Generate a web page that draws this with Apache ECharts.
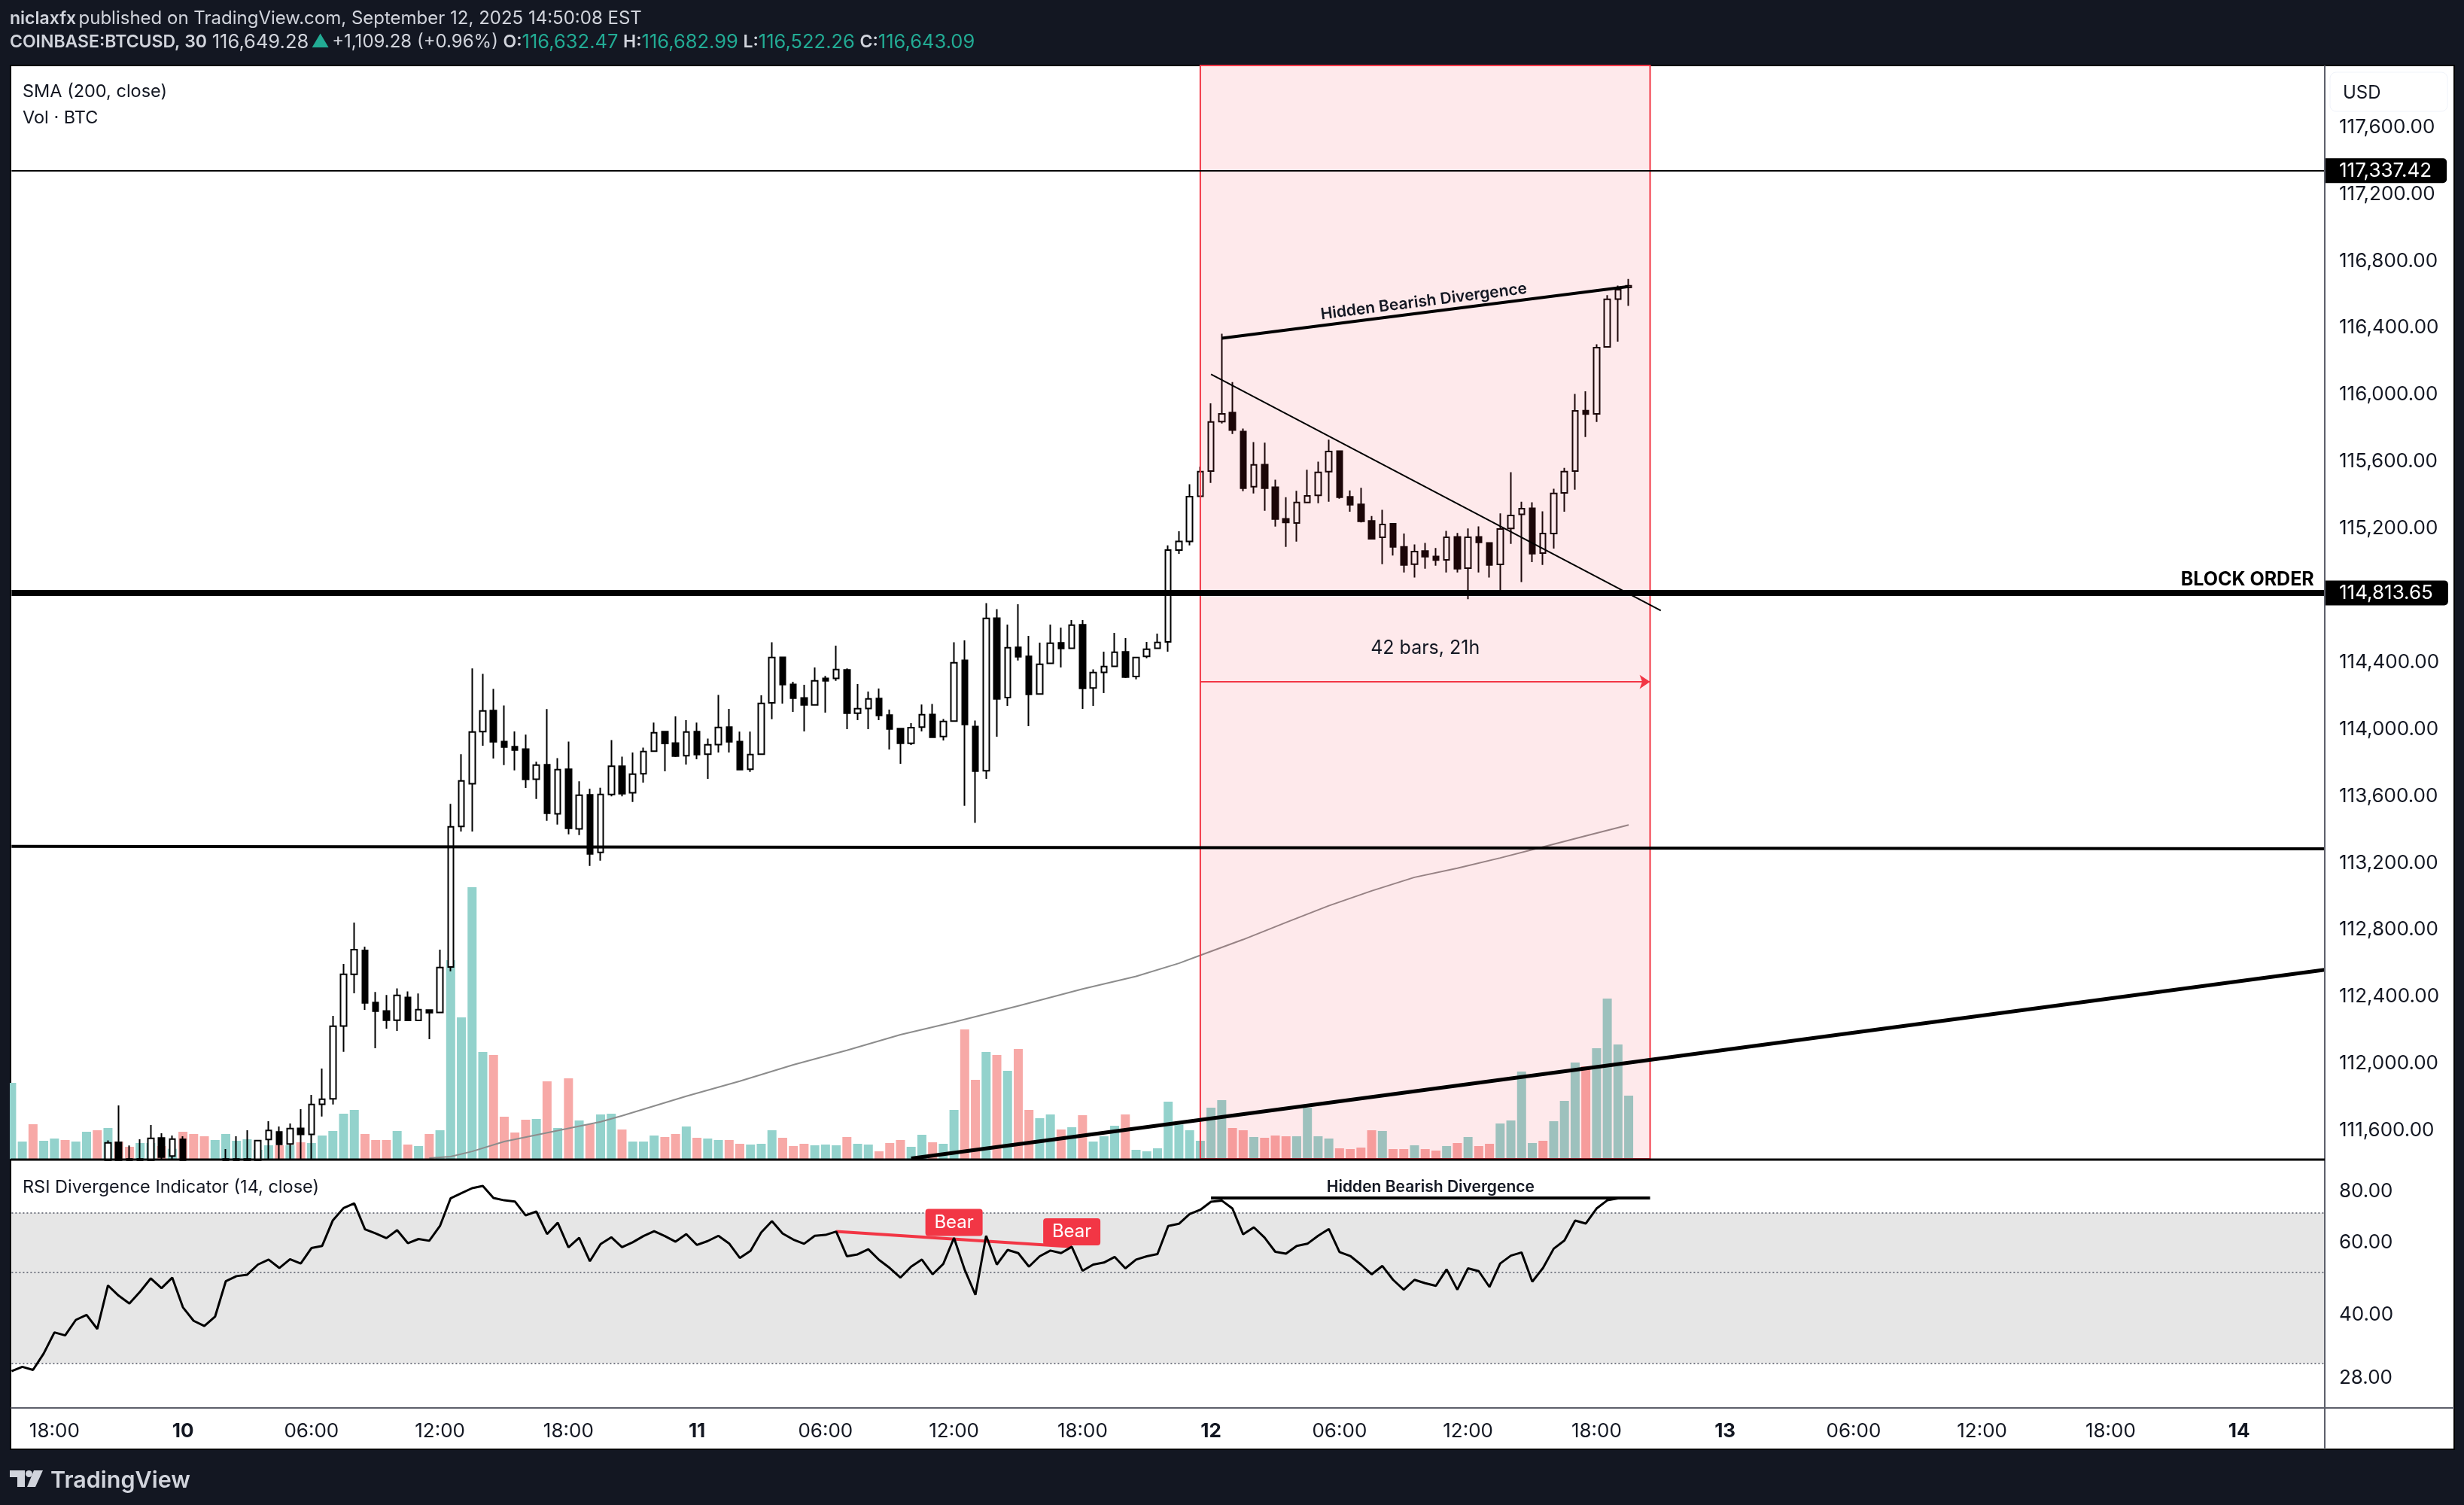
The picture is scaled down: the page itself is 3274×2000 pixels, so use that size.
<!DOCTYPE html>
<html>
<head>
<meta charset="utf-8">
<title>BTCUSD 30</title>
<script src="https://cdn.jsdelivr.net/npm/echarts@6/dist/echarts.min.js"></script>
<style>
  html, body { margin: 0; padding: 0; background: #131722; }
  #chart { width: 3274px; height: 2000px; }
</style>
</head>
<body>
<div id="chart"></div>
<script>
// 30 minute bars, one entry per bar
const opens = [
  111350,111340,111360,111330,111350,111370,111345,111365,111385,111414,
  111520,111420,111414,111414,111546,111438,111538,111400,111380,111360,
  111414,111420,111414,111414,111537,111582,111510,111604,111568,111748,
  111780,112216,112525,112668,112356,112306,112251,112387,112249,112311,
  112297,112569,113409,113665,113976,114102,113917,113886,113872,113692,
  113778,113485,113751,113395,113598,113254,113601,113769,113611,113724,
  113859,113976,113908,113832,113976,113841,113899,114003,113917,113751,
  113841,114148,114421,114259,114178,114136,114295,114295,114345,114087,
  114115,114174,114075,113994,113907,114003,114079,113947,114039,114403,
  114007,113742,114655,114180,114480,114426,114201,114385,114507,114475,
  114615,114237,114331,114367,114453,114306,114426,114475,114513,115062,
  115114,115384,115534,115830,115884,115771,115441,115573,115438,115249,
  115224,115347,115389,115531,115654,115380,115335,115236,115138,115219,
  115081,114978,115056,115024,115003,115141,114954,115141,115105,114976,
  115191,115276,115312,115044,115161,115404,115534,115896,115876,116277,
  116563,116632.47
];
const closes = [
  111340,111360,111330,111350,111370,111345,111365,111385,111360,111517,
  111414,111414,111420,111544,111432,111540,111414,111380,111360,111385,
  111420,111414,111420,111531,111591,111508,111603,111568,111747,111778,
  112215,112525,112672,112354,112305,112251,112399,112249,112314,112296,
  112566,113407,113682,113974,114100,113916,113884,113866,113691,113776,
  113488,113749,113398,113596,113245,113601,113769,113605,113722,113857,
  113970,113905,113830,113974,113839,113898,114001,113916,113749,113839,
  114145,114420,114258,114177,114136,114280,114280,114348,114087,114114,
  114172,114073,113992,113907,114000,114078,113943,114037,114388,114019,
  113740,114654,114172,114478,114424,114199,114379,114505,114474,114613,
  114235,114330,114366,114451,114303,114420,114469,114510,115062,115114,
  115381,115531,115828,115876,115780,115432,115572,115432,115248,115227,
  115347,115386,115527,115651,115378,115333,115234,115129,115215,115081,
  114973,115053,115023,115002,115138,114951,115138,115108,114973,115188,
  115269,115309,115041,115161,115401,115531,115894,115875,116272,116562,
  116619,116643.09
];
const lows = [
  111300,111310,111300,111310,111320,111320,111315,111335,111340,111414,
  111414,111414,111414,111414,111414,111414,111414,111350,111340,111340,
  111414,111414,111414,111414,111414,111414,111414,111414,111414,111675,
  111747,112062,112411,112312,112083,112200,112186,112246,112246,112137,
  112297,112543,113379,113379,113892,113815,113776,113745,113640,113574,
  113443,113421,113362,113358,113173,113205,113589,113589,113556,113671,
  113859,113739,113824,113779,113811,113694,113851,113851,113749,113736,
  113841,114051,114144,114094,113977,114132,114090,114280,113991,114045,
  113991,114045,113869,113784,113896,113977,113943,113923,114039,113533,
  113431,113694,113946,114130,114402,114009,114201,114385,114360,114475,
  114112,114130,114207,114367,114297,114289,114415,114475,114454,115040,
  115090,115384,115464,115819,115756,115414,115401,115297,115203,115081,
  115113,115342,115342,115351,115369,115291,115227,115126,114978,115029,
  114928,114898,114951,114969,114928,114928,114768,114928,114898,114811,
  115099,114871,114990,114973,115071,115291,115423,115738,115828,116277,
  116308,116522.26
];
const highs = [
  111380,111390,111385,111380,111400,111395,111390,111410,111405,111532,
  111741,111501,111538,111624,111574,111561,111556,111415,111410,111415,
  111480,111556,111592,111531,111646,111615,111633,111718,111804,111961,
  112276,112587,112835,112690,112419,112401,112441,112423,112410,112315,
  112673,113544,113841,114354,114322,114232,114133,113977,113958,113796,
  114111,113818,113917,113679,113634,113641,113926,113827,113851,113881,
  114030,113976,114067,114045,114030,113935,114196,114112,113976,113976,
  114193,114511,114421,114274,114256,114360,114309,114490,114354,114261,
  114216,114234,114108,113994,114027,114138,114142,114052,114511,114522,
  114043,114745,114709,114616,114738,114549,114508,114616,114598,114643,
  114643,114349,114454,114567,114535,114420,114513,114562,115090,115174,
  115456,115560,115939,116356,116067,115789,115708,115704,115483,115378,
  115416,115542,115591,115722,115654,115419,115434,115266,115303,115219,
  115161,115096,115105,115074,115177,115164,115191,115204,115105,115281,
  115528,115351,115348,115294,115429,115554,115996,116011,116293,116586,
  116644,116682.99
];
const volumes = [
  303,69,138,72,81,75,69,108,114,123,
  69,48,63,63,51,40,108,99,90,75,
  99,72,78,36,54,54,54,66,63,93,
  111,180,195,99,75,75,111,57,51,99,
  114,792,564,1083,426,414,168,105,156,159,
  309,123,321,153,138,177,180,117,69,69,
  93,87,99,129,84,81,75,75,60,57,
  60,114,84,51,60,54,57,54,87,60,
  57,30,63,75,48,96,66,60,195,516,
  315,426,414,351,438,195,162,177,117,126,
  174,69,90,132,177,36,30,42,228,137,
  114,72,204,234,123,114,87,84,93,90,
  90,204,90,81,42,39,45,114,111,39,
  39,54,39,33,51,63,87,51,60,141,
  153,348,63,72,150,231,384,369,441,639,
  456,252
];
// t = teal bar, r = red bar
const volumeSide = (
  'ttrttrttrt' + 'rrttrtrrrt' + 'tttttrtrtt' + 'tttrrrtrtr' + 'tttttrrrrt' +
  'rtrtrttrtt' + 'trrtrttrrt' + 'ttrrrtttrt' + 'trrrttrttr' + 'rtrtrrttrt' +
  'rtttrttttt' + 'ttttrrtrrr' + 'ttttrrrrtr' + 'rtrrtrtrrt' + 'tttrtttrtt' + 'tt'
).split('');
const rsi = [
  28.7,29.4,28.9,31.7,35.7,35.1,38.3,39.4,36.4,46.5,
  43.9,42.0,44.9,48.4,45.8,48.6,41.1,38.1,37.0,39.0,
  47.6,49.0,49.4,52.3,53.8,51.3,53.9,52.6,57.4,58.1,
  67.1,71.9,73.8,63.8,62.3,60.7,63.5,59.0,60.4,59.8,
  65.0,76.0,78.2,80.4,81.4,76.1,75.1,74.6,69.0,70.5,
  62.1,66.2,57.6,60.8,53.3,58.7,61.0,57.7,59.3,61.4,
  63.1,61.4,59.5,62.1,58.4,59.7,61.5,58.9,54.3,56.5,
  62.7,66.8,62.3,60.2,58.8,61.5,61.8,63.0,54.8,55.4,
  57.0,53.7,51.3,48.6,51.7,53.8,49.5,52.5,60.8,50.8,
  44.1,61.5,52.3,56.8,55.8,51.7,54.8,56.6,55.8,57.8,
  50.5,52.3,52.9,54.6,51.2,53.8,54.8,55.5,65.0,65.8,
  69.5,71.2,74.5,75.0,71.7,62.0,64.5,60.9,56.2,55.6,
  58.1,58.8,61.5,63.9,56.1,54.9,52.3,49.5,51.9,48.0,
  45.4,48.0,47.1,46.4,50.9,45.4,51.2,50.4,46.1,52.6,
  55.0,56.0,47.5,51.3,57.2,59.9,67.0,65.9,71.7,75.1,
  75.9,76.1
];
// the SMA was read at these bars only
const smaBars = [39,41,43,46,49,55,57,63,68,73,78,83,88,94,100,105,109,111,115,119,123,127,131,135,139,143,147,151];
const smaValues = [111426,111435,111466,111525,111564,111643,111679,111796,111886,111984,112071,112164,112239,112336,112437,112513,112591,112639,112733,112835,112935,113024,113105,113160,113221,113287,113353,113418];

const priceTicks = [111600,112000,112400,112800,113200,113600,114000,114400,114800,115200,115600,116000,116400,116800,117200,117600];
const rsiTicks = [28,40,60,80];
const rsiLevels = [30,50,70];

// time labels, a bar every 30 minutes from 16:00 on the 9th, 217 slots
const categories = [];
for (let i = 0; i < 217; i++) {
  const minutes = (16 * 60 + i * 30) % 1440;
  if (minutes === 0) {
    categories.push(String(10 + (i - 16) / 48));
  } else {
    const h = Math.floor(minutes / 60), m = minutes % 60;
    categories.push(String(h).padStart(2, '0') + ':' + String(m).padStart(2, '0'));
  }
}

const FONT = 'Inter';
const INK = '#131722';
const RED = '#f23645';
const AXIS_SIZE = 26;

function money(v) {
  return v.toLocaleString('en-US', { minimumFractionDigits: 2, maximumFractionDigits: 2 });
}

function tag(text) {
  return {
    show: true, position: 'end', distance: 1, formatter: text,
    color: '#fff', backgroundColor: '#000', fontFamily: FONT, fontSize: AXIS_SIZE,
    padding: [4, 20, 3, 18], borderRadius: [0, 5, 5, 0]
  };
}

function axisTag(text, color, size) {
  return {
    show: true, position: 'end', distance: 19, formatter: text,
    color: color, fontFamily: FONT, fontSize: size
  };
}

const chart = echarts.init(document.getElementById('chart'));

chart.setOption({
  animation: false,
  backgroundColor: '#131722',
  graphic: { elements: [
    { type: 'rect', z: -10, silent: true, shape: { x: 14, y: 87, width: 3247, height: 1839 },
      style: { fill: '#fff', stroke: '#000', lineWidth: 2 } },
    { type: 'rect', z: 20, silent: true, shape: { x: 0, y: 80, width: 13, height: 1850 },
      style: { fill: '#131722' } },
    { type: 'line', z: 20, silent: true, shape: { x1: 3089, y1: 87, x2: 3089, y2: 1926 },
      style: { stroke: '#5d606b', lineWidth: 2 } },
    { type: 'line', z: 20, silent: true, shape: { x1: 14, y1: 1871, x2: 3261, y2: 1871 },
      style: { stroke: '#5d606b', lineWidth: 2 } },
    { type: 'line', z: 20, silent: true, shape: { x1: 14, y1: 1541, x2: 3089, y2: 1541 },
      style: { stroke: '#000', lineWidth: 3 } },
    { type: 'rect', z: 19, silent: true, shape: { x: 3096, y: 96, width: 156, height: 52, r: 8 },
      style: { fill: '#fff', stroke: '#f0f3fa', lineWidth: 1 } },
    { type: 'text', z: 21, silent: true, x: 3113, y: 124,
      style: { text: 'USD', fill: INK, font: '24px ' + FONT, verticalAlign: 'middle' } },
    { type: 'text', z: 21, silent: true, x: 13, y: 25, style: {
      verticalAlign: 'middle',
      text: '{b|niclaxfx} {a|published on TradingView.com, September 12, 2025 14:50:08 EST}',
      rich: {
        a: { fill: '#d1d4dc', font: '24px ' + FONT },
        b: { fill: '#d1d4dc', font: '600 23px ' + FONT }
      } } },
    { type: 'text', z: 21, silent: true, x: 13, y: 56, style: {
      verticalAlign: 'middle',
      text: '{b|COINBASE:BTCUSD, 30}  {n|116,649.28} {g|▲} {a|+1,109.28 (+0.96%)}  {b|O:}{v|116,632.47}  {b|H:}{v|116,682.99}  {b|L:}{v|116,522.26}  {b|C:}{v|116,643.09}',
      rich: {
        a: { fill: '#d1d4dc', font: '24px ' + FONT },
        n: { fill: '#d1d4dc', font: '25.5px ' + FONT },
        b: { fill: '#d1d4dc', font: '600 23px ' + FONT },
        g: { fill: '#22ab94', font: '24px ' + FONT },
        v: { fill: '#22ab94', font: '25.5px ' + FONT }
      } } },
    { type: 'text', z: 21, silent: true, x: 30, y: 122,
      style: { text: 'SMA (200, close)', fill: INK, font: '23.5px ' + FONT, verticalAlign: 'middle' } },
    { type: 'text', z: 21, silent: true, x: 30, y: 157,
      style: { text: 'Vol · BTC', fill: INK, font: '23.5px ' + FONT, verticalAlign: 'middle' } },
    { type: 'text', z: 21, silent: true, x: 30, y: 1578,
      style: { text: 'RSI Divergence Indicator (14, close)', fill: INK, font: '23.5px ' + FONT, verticalAlign: 'middle' } },
    // TradingView mark
    { type: 'polygon', z: 21, silent: true,
      shape: { points: [[13,1954],[33,1954],[33,1976],[23,1976],[23,1963],[13,1963]] },
      style: { fill: '#d1d4dc' } },
    { type: 'circle', z: 21, silent: true, shape: { cx: 38.5, cy: 1958.5, r: 4.5 }, style: { fill: '#d1d4dc' } },
    { type: 'polygon', z: 21, silent: true,
      shape: { points: [[45,1954],[57,1954],[47,1976],[36,1976]] },
      style: { fill: '#d1d4dc' } },
    { type: 'text', z: 21, silent: true, x: 67, y: 1968,
      style: { text: 'TradingView', fill: '#d1d4dc', font: '600 30.5px ' + FONT, verticalAlign: 'middle' } }
  ] },
  grid: [
    { left: 15.4, top: 87, width: 3073.6, height: 1453 },
    { left: 15.4, top: 1541, width: 3073.6, height: 330 }
  ],
  xAxis: [
    { type: 'category', gridIndex: 0, data: categories, boundaryGap: false, show: false },
    { type: 'category', gridIndex: 1, data: categories, boundaryGap: false,
      axisLine: { show: false }, axisTick: { show: false },
      axisLabel: {
        interval: (i) => (i - 4) % 12 === 0,
        color: INK, fontFamily: FONT, fontSize: AXIS_SIZE, margin: 18,
        formatter: (v) => v.length === 2 ? '{d|' + v + '}' : v,
        rich: { d: { fontFamily: FONT, fontSize: AXIS_SIZE, fontWeight: 700, color: INK } }
      } }
  ],
  yAxis: [
    { type: 'value', gridIndex: 0, position: 'right', min: 111421.5, max: 117960,
      splitLine: { show: false }, axisLine: { show: false }, axisTick: { show: false },
      axisLabel: { customValues: priceTicks, formatter: money, verticalAlign: 'top', lineHeight: 4,
        color: INK, fontFamily: FONT, fontSize: AXIS_SIZE, margin: 19 } },
    { type: 'value', gridIndex: 0, min: 0, max: 4359, show: false, splitLine: { show: false } },
    { type: 'log', gridIndex: 1, position: 'right', min: 23.33, max: 94.45,
      splitLine: { show: false }, axisLine: { show: false }, axisTick: { show: false },
      axisLabel: { customValues: rsiTicks, formatter: (v) => v.toFixed(2), verticalAlign: 'top', lineHeight: 6,
        color: INK, fontFamily: FONT, fontSize: AXIS_SIZE, margin: 19 } }
  ],
  series: [
    {
      name: 'Vol', type: 'bar', xAxisIndex: 0, yAxisIndex: 1, z: 1, barWidth: 12,
      data: volumes,
      itemStyle: { color: (p) => volumeSide[p.dataIndex] === 't' ? '#93d2cc' : '#f7a9a7' }
    },
    {
      name: 'BTCUSD', type: 'candlestick', xAxisIndex: 0, yAxisIndex: 0, z: 2, barWidth: 8,
      data: opens.map((o, i) => [o, closes[i], lows[i], highs[i]]),
      itemStyle: { color: '#fff', color0: '#000', borderColor: '#000', borderColor0: '#000', borderWidth: 2 }
    },
    {
      name: 'SMA', type: 'line', xAxisIndex: 0, yAxisIndex: 0, z: 3, symbol: 'none',
      data: smaBars.map((b, i) => [b, smaValues[i]]),
      lineStyle: { color: '#8c8c8c', width: 2 }
    },
    {
      name: 'Drawings', type: 'line', xAxisIndex: 0, yAxisIndex: 0, z: 4, symbol: 'none', data: [],
      markArea: {
        silent: true, z: 4,
        itemStyle: { color: 'rgba(242,54,69,0.11)', borderColor: RED, borderWidth: 2 },
        data: [[{ xAxis: 111 }, { xAxis: 153 }]]
      },
      markLine: {
        silent: true, z: 5, symbol: 'none', animation: false,
        data: [
          // drawn about 7 under the printed level, that is where the picture has them on this scale
          { yAxis: 117331, lineStyle: { color: '#000', width: 2, type: 'solid' }, label: tag('117,337.42') },
          { yAxis: 114806, lineStyle: { color: '#000', width: 8, type: 'solid' }, label: tag('114,813.65') },
          { yAxis: 116643.09, lineStyle: { opacity: 0 }, label: axisTag('116,643.09', INK, AXIS_SIZE) },
          { yAxis: 116515, lineStyle: { opacity: 0 }, label: axisTag('09:53', '#5d606b', 23) },
          [ { coord: [0, 113290], lineStyle: { color: '#000', width: 4, type: 'solid' }, label: { show: false } }, { coord: [216, 113276] } ],
          [ { coord: [84, 111424], lineStyle: { color: '#000', width: 5, type: 'solid' }, label: { show: false } }, { coord: [216, 112552] } ],
          [ { coord: [112, 116113], lineStyle: { color: '#000', width: 2, type: 'solid' }, label: { show: false } }, { coord: [154, 114700] } ],
          [ { coord: [113, 116329], lineStyle: { color: '#000', width: 4, type: 'solid' },
              label: { show: true, position: 'insideMiddleTop', distance: 4, formatter: 'Hidden Bearish Divergence',
                color: INK, fontFamily: FONT, fontSize: 21, fontWeight: 600 } },
            { coord: [151, 116638] } ],
          [ { coord: [111, 114274], symbol: 'none', lineStyle: { color: RED, width: 2, type: 'solid' }, label: { show: false } },
            { coord: [153, 114274], symbol: 'arrow', symbolSize: 14 } ]
        ]
      },
      markPoint: {
        silent: true, z: 6, symbol: 'circle', symbolSize: 0,
        data: [
          { coord: [132, 114477], label: { show: true, position: 'inside', formatter: '42 bars, 21h', color: INK, fontFamily: FONT, fontSize: 25 } },
          { coord: [215, 114885], label: { show: true, position: 'left', distance: 0, formatter: 'BLOCK ORDER', color: '#000', fontFamily: FONT, fontSize: 25, fontWeight: 700 } }
        ]
      }
    },
    {
      name: 'RSI', type: 'line', xAxisIndex: 1, yAxisIndex: 2, z: 3, symbol: 'none',
      data: rsi,
      lineStyle: { color: '#000', width: 3 },
      markArea: {
        silent: true, z: 1,
        itemStyle: { color: '#e6e6e6' },
        data: [[{ yAxis: rsiLevels[0] }, { yAxis: rsiLevels[2] }]]
      },
      markLine: {
        silent: true, z: 2, symbol: 'none', animation: false,
        data: [
          ...rsiLevels.map((v) => ({ yAxis: v, lineStyle: { color: '#787b86', width: 2, type: [2, 3] }, label: { show: false } })),
          [ { coord: [77, 63], lineStyle: { color: RED, width: 4, type: 'solid' }, label: { show: false } }, { coord: [99, 57.85] } ],
          [ { coord: [112, 76.1], lineStyle: { color: '#000', width: 4, type: 'solid' },
              label: { show: true, position: 'insideMiddleTop', distance: 4, formatter: 'Hidden Bearish Divergence',
                color: INK, fontFamily: FONT, fontSize: 21, fontWeight: 600 } },
            { coord: [153, 76.1] } ]
        ]
      },
      markPoint: {
        silent: true, z: 6,
        symbol: 'path://M4,0H72Q76,0 76,4V32Q76,36 72,36H4Q0,36 0,32V4Q0,0 4,0Z', symbolSize: [76, 36],
        itemStyle: { color: RED },
        label: { show: true, position: 'inside', formatter: 'Bear', color: '#fff', fontFamily: FONT, fontSize: 24 },
        data: [ { coord: [88, 66.3] }, { coord: [99, 62.9] } ]
      }
    }
  ]
});
</script>
</body>
</html>
